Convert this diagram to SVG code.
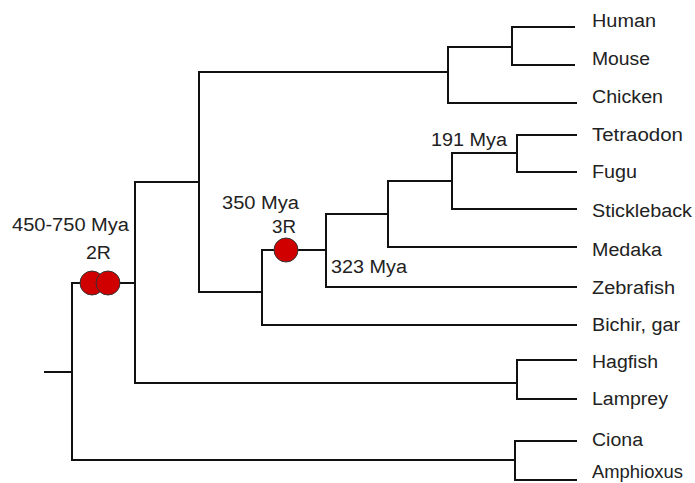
<svg xmlns="http://www.w3.org/2000/svg" width="695" height="483" viewBox="0 0 695 483">
<style>
.e{fill:none;stroke:#111;stroke-width:2;stroke-linecap:square}
.t{font-family:"Liberation Sans",Arial,sans-serif;font-size:18px;fill:#222}
.d{fill:#d00000;stroke:#333;stroke-width:1}
</style>
<rect width="695" height="483" fill="#fff"/>
<g id="connectors">
<path class="e" d="M45,372H72M72,283V460M72,283H135M72,460H515M515,441V480M515,441H576M515,480H576"/>
<path class="e" d="M135,182V383M135,383H517M517,360V399M517,360H576M517,399H576"/>
<path class="e" d="M135,182H199M199,72V292M199,72H448M448,47V103M448,47H512M512,27V65M512,27H574M512,65H574M448,103H576"/>
<path class="e" d="M199,292H262M262,250V325M262,325H576M262,250H326M326,214V287M326,287H576M326,214H388M388,181V247M388,247H576M388,181H452M452,153V209M452,209H576M452,153H517M517,135V172M517,135H576M517,172H576"/>
</g>
<g id="dup2R">
<circle class="d" cx="92" cy="283" r="12"/>
<circle class="d" cx="108" cy="283" r="12"/>
<text class="t" x="12" y="231" textLength="117" lengthAdjust="spacingAndGlyphs">450-750 Mya</text>
<text class="t" x="86" y="259" textLength="25" lengthAdjust="spacingAndGlyphs">2R</text>
</g>
<g id="dup3R">
<circle class="d" cx="286" cy="250" r="12"/>
<text class="t" x="222" y="209" textLength="77" lengthAdjust="spacingAndGlyphs">350 Mya</text>
<text class="t" x="272" y="233" textLength="24" lengthAdjust="spacingAndGlyphs">3R</text>
</g>
<g id="t323"><text class="t" x="331" y="273" textLength="76" lengthAdjust="spacingAndGlyphs">323 Mya</text></g>
<g id="t191"><text class="t" x="431" y="146" textLength="76" lengthAdjust="spacingAndGlyphs">191 Mya</text></g>
<g id="human"><text class="t" x="592" y="27" textLength="64" lengthAdjust="spacingAndGlyphs">Human</text></g>
<g id="mouse"><text class="t" x="592" y="65" textLength="58" lengthAdjust="spacingAndGlyphs">Mouse</text></g>
<g id="chicken"><text class="t" x="592" y="103" textLength="71" lengthAdjust="spacingAndGlyphs">Chicken</text></g>
<g id="tetraodon"><text class="t" x="592" y="141" textLength="91" lengthAdjust="spacingAndGlyphs">Tetraodon</text></g>
<g id="fugu"><text class="t" x="592" y="178" textLength="45" lengthAdjust="spacingAndGlyphs">Fugu</text></g>
<g id="stickleback"><text class="t" x="592" y="217" textLength="100" lengthAdjust="spacingAndGlyphs">Stickleback</text></g>
<g id="medaka"><text class="t" x="592" y="256" textLength="70" lengthAdjust="spacingAndGlyphs">Medaka</text></g>
<g id="zebrafish"><text class="t" x="592" y="294" textLength="83" lengthAdjust="spacingAndGlyphs">Zebrafish</text></g>
<g id="bichir"><text class="t" x="592" y="331" textLength="88" lengthAdjust="spacingAndGlyphs">Bichir, gar</text></g>
<g id="hagfish"><text class="t" x="592" y="368" textLength="66" lengthAdjust="spacingAndGlyphs">Hagfish</text></g>
<g id="lamprey"><text class="t" x="592" y="405" textLength="76" lengthAdjust="spacingAndGlyphs">Lamprey</text></g>
<g id="ciona"><text class="t" x="592" y="446" textLength="51" lengthAdjust="spacingAndGlyphs">Ciona</text></g>
<g id="amphioxus"><text class="t" x="592" y="478" textLength="91" lengthAdjust="spacingAndGlyphs">Amphioxus</text></g>
</svg>
